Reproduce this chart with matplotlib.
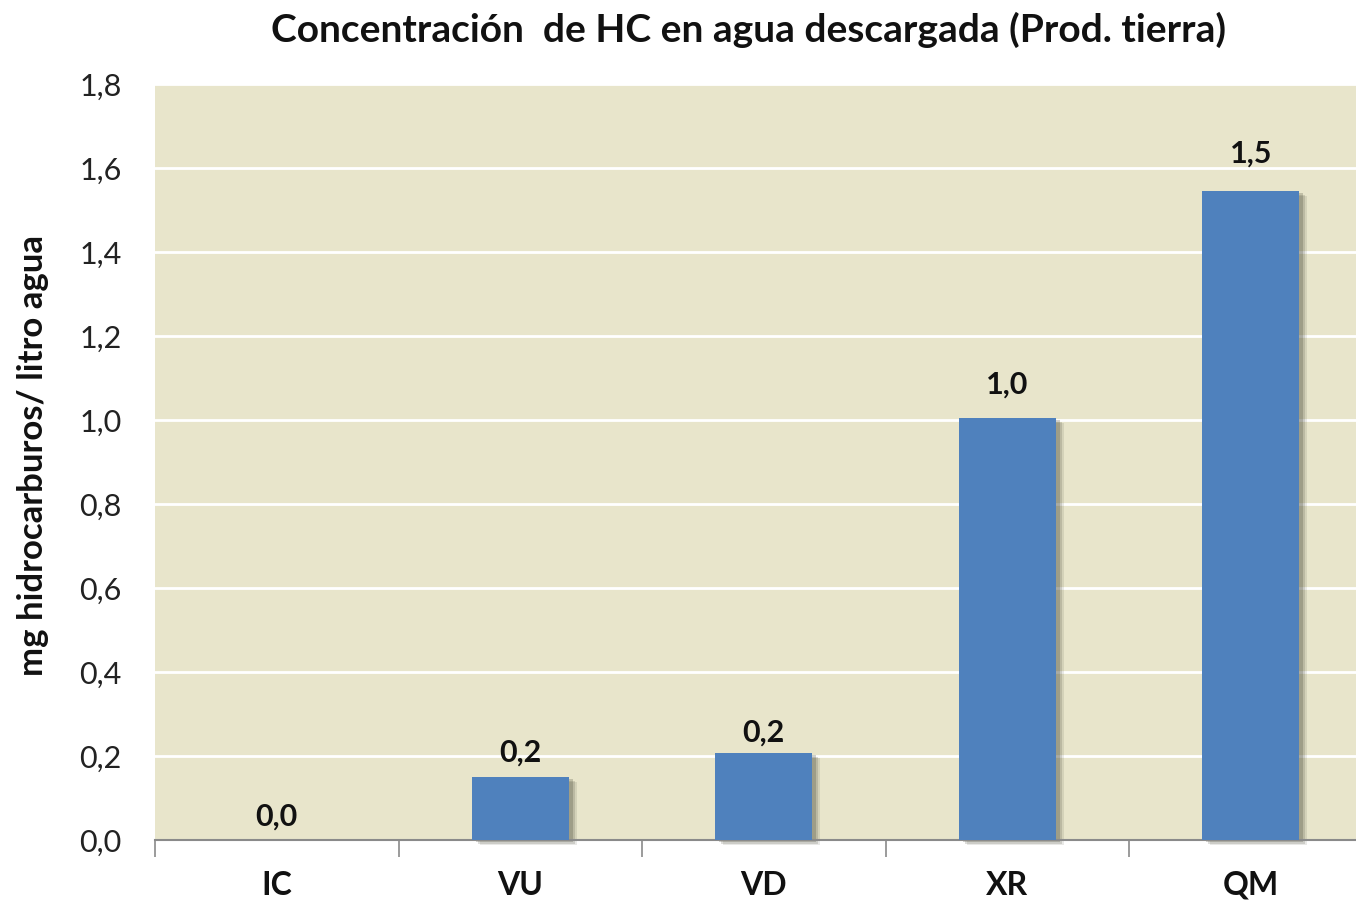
import matplotlib
matplotlib.use("Agg")
import matplotlib.pyplot as plt
import matplotlib.transforms as mtransforms
from matplotlib.patches import Rectangle

# ---- data ----
categories = ["IC", "VU", "VD", "XR", "QM"]
values = [0.0, 0.151, 0.208, 1.005, 1.546]
value_labels = ["0,0", "0,2", "0,2", "1,0", "1,5"]
yticks = [0.0, 0.2, 0.4, 0.6, 0.8, 1.0, 1.2, 1.4, 1.6, 1.8]
ytick_labels = ["0,0", "0,2", "0,4", "0,6", "0,8", "1,0", "1,2", "1,4", "1,6", "1,8"]
title = "Concentración  de HC en agua descargada (Prod. tierra)"
ylabel = "mg hidrocarburos/ litro agua"

# ---- style ----
FONT = ["Lato", "DejaVu Sans"]
plt.rcParams["font.family"] = FONT
BG = "#E8E5CB"
BAR = "#4F81BD"
label_offsets_px = [23, 24, 20, 33, 37]

W, H = 1356, 902
fig = plt.figure(figsize=(W / 100, H / 100), dpi=100)
ax = fig.add_axes([155 / W, 1 - 840 / H, (1372.5 - 155) / W, (840 - 84) / H])
ax.set_facecolor(BG)

x = list(range(len(categories)))
bw = 0.4

# shadows
for i, v in enumerate(values):
    if v <= 0:
        continue
    for k, (dx, dy, a) in enumerate([(8, -5, 0.12), (6, -4, 0.18), (4, -2, 0.25)]):
        tr = mtransforms.offset_copy(ax.transData, fig=fig, x=dx, y=dy, units="dots")
        ax.add_patch(Rectangle((i - bw / 2, 0), bw, v, transform=tr,
                               facecolor="#4a4a3a", alpha=a, edgecolor="none",
                               zorder=2, clip_on=False))

ax.bar(x, values, width=bw, color=BAR, zorder=3)

for i, (v, lab) in enumerate(zip(values, value_labels)):
    ax.annotate(lab, (i, v), xytext=(0, label_offsets_px[i] * 0.72),
                textcoords="offset points", ha="center", va="center",
                fontsize=22, fontweight="bold", color="#111111", zorder=5)

ax.set_xlim(-0.5, len(categories) - 0.5)
ax.set_ylim(0, 1.8)
ax.set_yticks(yticks)
ax.set_yticklabels(ytick_labels, fontsize=22, color="#222222")
ax.yaxis.grid(True, color="white", linewidth=2)
ax.set_axisbelow(True)
ax.tick_params(axis="y", length=0, pad=24)

ax.set_xticks([i - 0.5 for i in range(len(categories) + 1)])
ax.set_xticklabels([])
ax.set_xticks(x, minor=True)
ax.set_xticklabels(categories, minor=True, fontsize=23, fontweight="bold", color="#111111")
ax.tick_params(axis="x", which="major", length=12, width=1.2, color="#8a8a8a", direction="out")
ax.tick_params(axis="x", which="minor", length=0, pad=22)

for s in ["top", "right", "left"]:
    ax.spines[s].set_visible(False)
ax.spines["bottom"].set_color("#8a8a8a")
ax.spines["bottom"].set_linewidth(1.5)

fig.text(749 / W, 1 - 30 / H, title, ha="center", va="center",
         fontsize=28, fontweight="bold", color="#111111")
fig.text(33 / W, 1 - 456 / H, ylabel, ha="center", va="center", rotation=90,
         fontsize=25, fontweight="bold", color="#111111")

fig.savefig("out.png", dpi=100, facecolor="white")
